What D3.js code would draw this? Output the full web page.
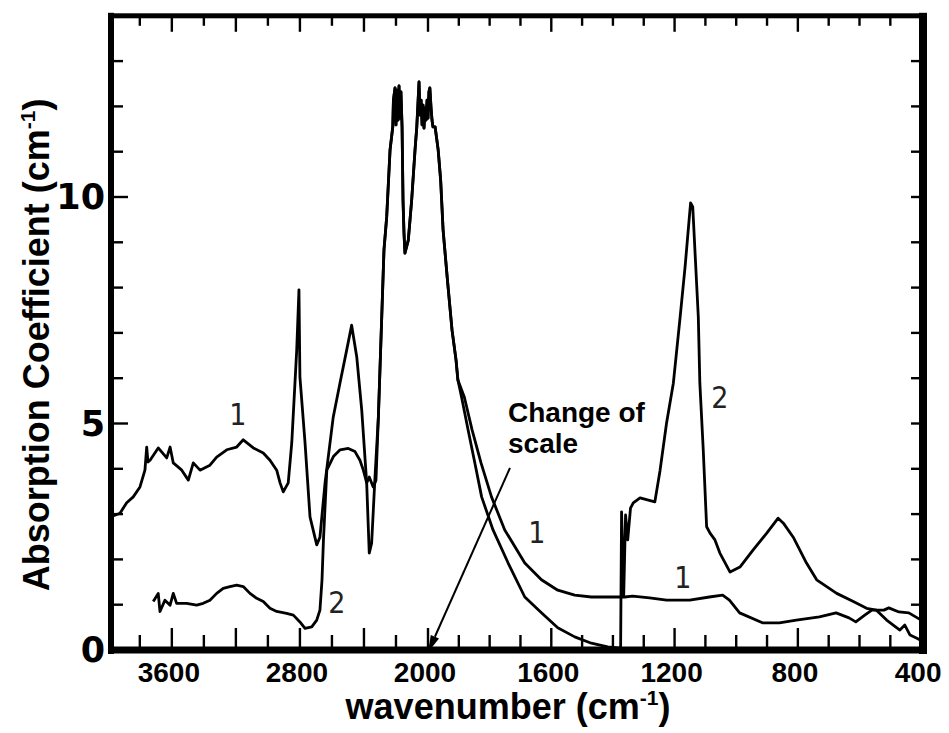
<!DOCTYPE html>
<html><head><meta charset="utf-8">
<script src="https://cdn.jsdelivr.net/npm/d3@7/dist/d3.min.js"></script>
<style>body{margin:0;background:#fff}</style>
</head><body>
<svg id="chart" width="949" height="733"></svg>
<script>
// ---- data ----
const curve1Wavenumber = [3980,3924,3882,3841,3799,3768,3757,3749,3736,3685,3632,3611,3591,3538,3497,3466,3424,3362,3320,3257,3195,3154,3091,3029,2987,2945,2924,2904,2873,2851,2831,2820,2806,2800,2768,2737,2695,2675,2643,2592,2550,2508,2477,2445,2414,2383,2367,2352,2331,2310,2289,2275,2258,2237,2220,2216,2206,2200,2194,2187,2181,2175,2169,2162,2156,2150,2144,2123,2102,2081,2070,2056,2050,2043,2037,2031,2025,2018,2012,2006,2000,1997,1994,1990,1987,1984,1977,1967,1959,1951,1937,1922,1909,1903,1882,1857,1828,1794,1751,1686,1632,1579,1524,1470,1417,1372,1362,1336,1281,1226,1151,1087,1044,1022,989,915,860,805,730,676,634,612,583,560,521,505,472,440,400];
const curve1Absorption = [2.94,3.02,3.25,3.38,3.60,3.97,4.48,4.15,4.19,4.46,4.24,4.48,4.13,3.97,3.75,4.13,3.97,4.08,4.26,4.42,4.48,4.64,4.46,4.35,4.19,3.97,3.69,3.49,3.69,4.57,5.89,6.62,7.95,6.03,4.57,2.94,2.32,2.49,3.69,5.14,5.89,6.62,7.17,6.47,5.30,3.69,2.14,2.36,3.82,5.14,7.35,8.83,9.56,11.04,11.55,12.14,12.41,11.59,12.36,11.70,12.45,11.74,12.32,11.55,9.93,9.21,8.76,9.05,9.93,11.04,11.55,12.54,11.81,12.14,11.59,12.03,11.52,11.96,11.70,12.14,11.74,12.32,12.41,11.96,11.70,11.55,11.55,11.04,10.38,9.27,8.17,7.06,6.40,5.96,5.58,4.86,4.13,3.38,2.65,1.92,1.55,1.32,1.21,1.17,1.17,1.17,1.17,1.19,1.15,1.10,1.10,1.17,1.21,1.10,0.82,0.60,0.60,0.66,0.73,0.82,0.71,0.62,0.77,0.88,0.88,0.93,0.84,0.82,0.66];

const curve2Wavenumber = [3716,3685,3674,3643,3611,3591,3570,3507,3445,3404,3362,3320,3279,3237,3195,3154,3112,3070,3029,2987,2945,2883,2841,2800,2768,2726,2695,2675,2662,2653,2632,2591,2549,2498,2456,2425,2404,2383,2367,2342,2325,2310,2289,2275,2258,2237,2220,2216,2206,2200,2194,2187,2181,2175,2169,2162,2156,2150,2144,2123,2102,2081,2070,2056,2050,2043,2037,2031,2025,2018,2012,2006,2000,1997,1994,1990,1987,1984,1977,1967,1959,1951,1937,1922,1909,1903,1891,1870,1848,1826,1789,1740,1686,1632,1579,1524,1470,1417,1377,1375,1372,1365,1359,1352,1343,1334,1312,1264,1247,1226,1204,1182,1166,1152,1148,1141,1134,1123,1118,1107,1096,1085,1069,1053,1020,988,945,901,864,847,815,772,739,674,620,577,545,512,469,453,436,414,403];
const curve2Absorption = [1.07,1.25,0.85,1.10,0.99,1.25,1.03,1.03,0.99,1.03,1.10,1.25,1.36,1.40,1.43,1.40,1.25,1.14,1.07,0.92,0.85,0.81,0.77,0.62,0.48,0.51,0.66,0.88,1.55,2.43,3.97,4.27,4.42,4.45,4.38,4.19,3.97,3.69,3.82,3.60,3.75,5.14,7.35,8.83,9.56,11.04,11.55,12.14,12.41,11.59,12.36,11.70,12.45,11.74,12.32,11.55,9.93,9.21,8.76,9.05,9.93,11.04,11.55,12.54,11.81,12.14,11.59,12.03,11.52,11.96,11.70,12.14,11.74,12.32,12.41,11.96,11.70,11.55,11.55,11.04,10.38,9.27,8.17,7.06,6.40,5.96,5.58,4.86,4.13,3.38,2.65,1.92,1.17,0.82,0.49,0.29,0.15,0.07,0.04,0.07,3.05,1.21,2.98,2.43,3.13,3.25,3.36,3.27,3.97,5.01,5.89,7.35,8.45,9.56,9.87,9.78,8.83,7.35,5.89,4.42,2.72,2.58,2.43,2.14,1.72,1.83,2.21,2.58,2.91,2.80,2.49,1.92,1.55,1.25,1.07,0.92,0.88,0.66,0.44,0.55,0.33,0.26,0.22];

const xTickLabels = [3600, 2800, 2000, 1600, 1200, 800, 400];
const xMajorTicks = [3600, 3200, 2800, 2400, 2000, 1600, 1200, 800];
const xMinorTicks = [3800, 3400, 3000, 2600, 2200, 1900, 1800, 1700, 1500, 1400, 1300, 1100, 1000, 900, 700, 600, 500];
const yTickLabels = [0, 5, 10];
const yMajorTicks = [5, 10];
const yMinorTicks = [1, 2, 3, 4, 6, 7, 8, 9, 11, 12, 13];

const curveLabelText = ["1", "2", "1", "2", "1"];
const curveLabelWavenumber = [3187, 2570, 1647, 1053, 1173];
const curveLabelAbsorption = [4.97, 0.82, 2.36, 5.34, 1.37];

const noteLines = ["Change of", "scale"];
const arrowFrom = [1734, 4.02];
const arrowTo = [2000, -0.05];

// ---- drawing ----
const svg = d3.select("#chart");
svg.append("rect").attr("width", 949).attr("height", 733).attr("fill", "#fff");

// broken (change of scale) x axis: 3980-2000 compressed, 2000-400 expanded
const x = d3.scaleLinear().domain([3980, 2000, 394]).range([111, 428, 923]);
const y = d3.scaleLinear().domain([0, 14]).range([650, 15.8]);

const L = x(3980), R = x(394), B = y(0), T = y(14);

// curves
const line = d3.line().x(d => x(d[0])).y(d => y(d[1]));
const c1 = curve1Wavenumber.map((w, i) => [w, curve1Absorption[i]]);
const c2 = curve2Wavenumber.map((w, i) => [w, curve2Absorption[i]]);
[c1, c2].forEach(c => {
  svg.append("path").datum(c).attr("d", line)
    .attr("fill", "none").attr("stroke", "#000").attr("stroke-width", 2.8)
    .attr("stroke-linejoin", "round");
});

// white box behind the annotation
svg.append("rect").attr("x", 487).attr("y", 367).attr("width", 151).attr("height", 100).attr("fill", "#fff");
noteLines.forEach((t, i) => {
  svg.append("text").attr("x", 508).attr("y", 422 + i * 31)
    .attr("font-family", "'Liberation Sans', Arial, sans-serif").attr("font-weight", "bold")
    .attr("font-size", 28).attr("fill", "#000").text(t);
});

// arrow
const ax1 = x(arrowFrom[0]), ay1 = y(arrowFrom[1]), ax2 = x(arrowTo[0]), ay2 = y(arrowTo[1]);
const ang = Math.atan2(ay2 - ay1, ax2 - ax1);
const hl = 17, hw = 4.5;
const bx = ax2 - hl * Math.cos(ang), by = ay2 - hl * Math.sin(ang);
svg.append("line").attr("x1", ax1).attr("y1", ay1).attr("x2", bx).attr("y2", by)
  .attr("stroke", "#000").attr("stroke-width", 2);
svg.append("path")
  .attr("d", `M${ax2},${ay2}L${bx + hw * Math.sin(ang)},${by - hw * Math.cos(ang)}L${bx - hw * Math.sin(ang)},${by + hw * Math.cos(ang)}Z`)
  .attr("fill", "#000");

// curve labels
curveLabelText.forEach((t, i) => {
  svg.append("text").attr("x", x(curveLabelWavenumber[i])).attr("y", y(curveLabelAbsorption[i]))
    .attr("text-anchor", "middle")
    .attr("font-family", "'DejaVu Sans Condensed', 'DejaVu Sans', sans-serif")
    .attr("font-size", 30).attr("fill", "#222").text(t);
});

// ticks
const tk = svg.append("g").attr("stroke", "#000").attr("stroke-width", 2.4);
xMajorTicks.forEach(v => {
  tk.append("line").attr("x1", x(v)).attr("x2", x(v)).attr("y1", B - 3).attr("y2", B - 22);
  tk.append("line").attr("x1", x(v)).attr("x2", x(v)).attr("y1", T + 2).attr("y2", T + 16);
});
xMinorTicks.forEach(v => {
  tk.append("line").attr("x1", x(v)).attr("x2", x(v)).attr("y1", B - 3).attr("y2", B - 15);
  tk.append("line").attr("x1", x(v)).attr("x2", x(v)).attr("y1", T + 2).attr("y2", T + 10);
});
yMajorTicks.forEach(v => {
  tk.append("line").attr("x1", L + 2).attr("x2", L + 17).attr("y1", y(v)).attr("y2", y(v));
  tk.append("line").attr("x1", R - 3).attr("x2", R - 12).attr("y1", y(v)).attr("y2", y(v));
});
yMinorTicks.forEach(v => {
  tk.append("line").attr("x1", L + 2).attr("x2", L + 12).attr("y1", y(v)).attr("y2", y(v));
  tk.append("line").attr("x1", R - 3).attr("x2", R - 12).attr("y1", y(v)).attr("y2", y(v));
});

// frame
svg.append("rect").attr("x", L - 3).attr("y", T - 3).attr("width", 6).attr("height", B - T + 7).attr("fill", "#000");
svg.append("rect").attr("x", R - 4).attr("y", T - 3).attr("width", 8).attr("height", B - T + 7).attr("fill", "#000");
svg.append("rect").attr("x", L - 3).attr("y", T - 2.5).attr("width", R - L + 7).attr("height", 5).attr("fill", "#000");
svg.append("rect").attr("x", L - 3).attr("y", B - 3.5).attr("width", R - L + 7).attr("height", 7).attr("fill", "#000");

// x tick labels
xTickLabels.forEach(v => {
  svg.append("text").attr("x", x(v) - 3).attr("y", 682).attr("text-anchor", "middle")
    .attr("font-family", "'Liberation Sans', Arial, sans-serif").attr("font-weight", "bold")
    .attr("font-size", 28).attr("fill", "#000").text(v);
});
// y tick labels
yTickLabels.forEach(v => {
  svg.append("text").attr("x", 105).attr("y", y(v)).attr("text-anchor", "end")
    .attr("dominant-baseline", "central")
    .attr("font-family", "'DejaVu Sans', sans-serif").attr("font-weight", "bold")
    .attr("font-size", 35).attr("fill", "#000").text(v);
});

// axis titles
const xt = svg.append("text").attr("x", 508).attr("y", 719).attr("text-anchor", "middle")
  .attr("font-family", "'Liberation Sans', Arial, sans-serif").attr("font-weight", "bold")
  .attr("font-size", 36).attr("fill", "#000");
xt.append("tspan").text("wavenumber (cm");
xt.append("tspan").attr("font-size", 21).attr("dy", -14).text("-1");
xt.append("tspan").attr("dy", 14).text(")");

const yt = svg.append("text").attr("transform", `translate(49,${(B + T) / 2 + 12}) rotate(-90)`)
  .attr("text-anchor", "middle")
  .attr("font-family", "'Liberation Sans', Arial, sans-serif").attr("font-weight", "bold")
  .attr("font-size", 36).attr("fill", "#000");
yt.append("tspan").text("Absorption Coefficient (cm");
yt.append("tspan").attr("font-size", 21).attr("dy", -14).text("-1");
yt.append("tspan").attr("dy", 14).text(")");
</script>
</body></html>
